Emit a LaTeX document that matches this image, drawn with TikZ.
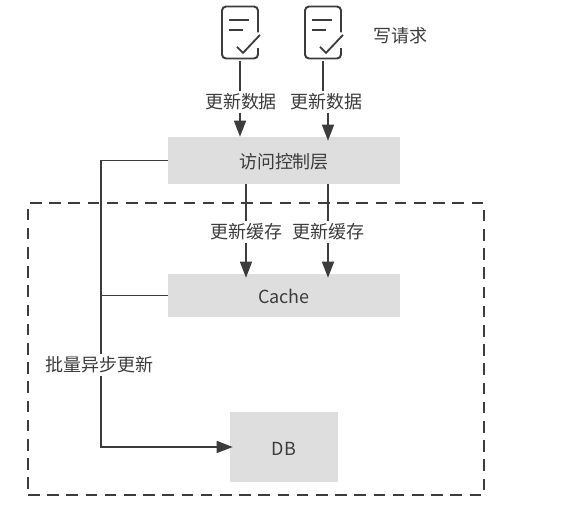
\documentclass[tikz,border=0pt]{standalone}
\usepackage{fontspec}
\setmainfont{Noto Sans CJK SC}
\usetikzlibrary{arrows.meta}
\definecolor{ink}{HTML}{3C3C3C}
\definecolor{boxgray}{HTML}{DEDEDE}

\begin{document}
\begin{tikzpicture}[
		every node/.style={text=ink, font=\fontsize{12.8}{15}\selectfont},
		block/.style={rectangle, fill=boxgray, inner sep=0pt, text height=4.2mm, text depth=0pt},
		tag/.style={rectangle, fill=white, inner sep=1.5pt},
		iconbox/.style={rectangle, inner sep=0pt, minimum width=9mm, minimum height=14.25mm},
		link/.style={draw=ink, line width=1pt},
		flow/.style={link, -{Triangle[length=4mm, width=3mm]}},
		doc/.pic={
			\draw[ink, line width=1.4pt, rounded corners=1mm] (.45,0) -- (.45,.65) -- (-.45,.65) -- (-.45,-.65) -- (.45,-.65) -- (.45,-.39);
			\draw[ink, line width=1.3pt] (-.275,.31) -- (.225,.31);
			\draw[ink, line width=1.3pt] (-.275,.06) -- (.075,.06);
			\draw[ink, line width=1.3pt] (-.075,-.36) -- (.075,-.51) -- (.5,-.06);
		}
		]
		\useasboundingbox (0,0) rectangle (14.075,12.7);
		\node at (6.4,3.975) [name=storage, rectangle, draw=ink, line width=1pt, dash pattern=on 2.9mm off 1.9mm, minimum width=11.4cm, minimum height=7.3cm] {};

		\node at (6,11.8875) [name=icon 1, iconbox] {};
		\node at (8.075,11.8875) [name=icon 2, iconbox] {};
		\pic at (icon 1) {doc};
		\pic at (icon 2) {doc};
		\node at (10.02,11.8) [name=write request] {写请求};

		\node at (7.1,8.6875) [name=access, block, minimum width=5.8cm, minimum height=1.175cm] {访问控制层};
		\node at (7.1,5.3125) [name=cache, block, minimum width=5.8cm, minimum height=1.075cm] {Cache};
		\node at (7.1,1.525) [name=db, block, minimum width=2.7cm, minimum height=1.75cm] {DB};

		\node at (6.025,10.15) [name=update 1, tag] {更新数据};
		\node at (8.1625,10.15) [name=update 2, tag] {更新数据};
		\node at (6.1625,6.9) [name=fill 1, tag] {更新缓存};
		\node at (8.2125,6.9) [name=fill 2, tag] {更新缓存};
		\node at (2.4875,3.575) [name=batch, tag] {批量异步更新};

		\coordinate (bus) at (2.52,8.6875);
		\coordinate (lane 1) at (6.15,0);
		\coordinate (lane 2) at (8.2,0);

		\draw[link] (icon 1.south) -- (icon 1.south |- update 1.north);
		\draw[flow] (icon 1.south |- update 1.south) -- (icon 1.south |- access.north);
		\draw[link] (icon 2.south) -- (icon 2.south |- update 2.north);
		\draw[flow, shorten >=-1mm] (lane 2 |- update 2.south) -- (lane 2 |- access.north);

		\draw[link] (lane 1 |- access.south) -- (lane 1 |- fill 1.north);
		\draw[flow, shorten >=-1mm] (lane 1 |- fill 1.south) -- (lane 1 |- cache.north);
		\draw[link] (lane 2 |- access.south) -- (lane 2 |- fill 2.north);
		\draw[flow, shorten >=-1mm] (lane 2 |- fill 2.south) -- (lane 2 |- cache.north);

		\draw[link] (access.west) -- (bus) -- (bus |- batch.north);
		\draw[link] (cache.west) -- (bus |- cache.west);
		\draw[flow, shorten >=-0.75mm] (bus |- batch.south) |- (db.west);
	\end{tikzpicture}
\end{document}
